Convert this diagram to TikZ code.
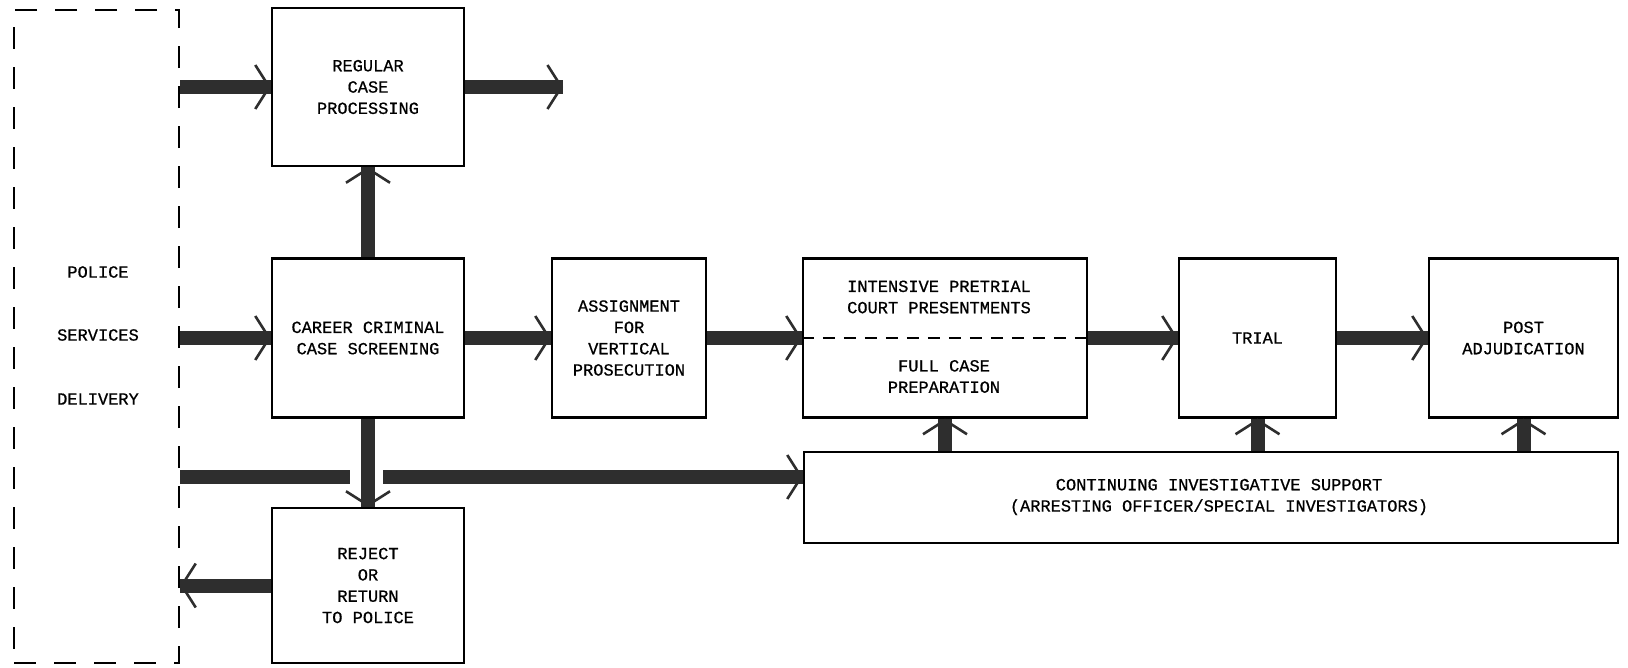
\documentclass[tikz,border=0pt]{standalone}
\usepackage{fontspec}
\newfontfamily\tw{Liberation Mono}[FakeBold=0.7]
\usetikzlibrary{arrows.meta}
\tikzset{
  box/.style={draw=black, line width=2.4pt, rectangle, inner sep=0pt, align=center},
  txt/.style={align=center, inner sep=0pt},
  shaft/.style={draw=black!82, line width=14pt},
  flow/.style={draw=black!82, line width=14pt,
    postaction={draw=black!82, line width=2.6pt, -{Straight Barb[length=14pt,width=44pt,line width=2.6pt]}}},
}
\begin{document}
\begin{tikzpicture}[x=1pt,y=-1pt, font=\tw\fontsize{17}{21.3}\selectfont]
\useasboundingbox (0,0) rectangle (1628,667);
% police (dashed)
\node[draw=black, line width=2.4pt, dash pattern=on 22pt off 18pt, rectangle, inner sep=0pt,
      minimum width=165pt, minimum height=653pt] (police) at (96.5,336.5) {};
\node[txt] (pol1) at (98,272) {POLICE};
\node[txt] (pol2) at (98,335) {SERVICES};
\node[txt] (pol3) at (98,399) {DELIVERY};
% boxes
\node[box, minimum width=192pt, minimum height=158pt] (regular) at (368,87) {REGULAR\\CASE\\PROCESSING};
\node[box, minimum width=192pt, minimum height=159pt] (career) at (368,338) {CAREER CRIMINAL\\CASE SCREENING};
\node[box, minimum width=192pt, minimum height=155pt] (reject) at (368,585.5) {REJECT\\OR\\RETURN\\TO POLICE};
\node[box, minimum width=154pt, minimum height=159pt] (assign) at (629,338) {ASSIGNMENT\\FOR\\VERTICAL\\PROSECUTION};
\node[box, minimum width=284pt, minimum height=159pt] (intens) at (945,338) {};
\node[txt] (inttop) at (939,297) {INTENSIVE PRETRIAL\\COURT PRESENTMENTS};
\node[txt] (intbot) at (944,376.5) {FULL CASE\\PREPARATION};
\draw[line width=2pt, dash pattern=on 12pt off 9pt] (intens.west) -- (intens.east);
\node[box, minimum width=157pt, minimum height=159pt] (trial) at (1257.5,338) {TRIAL};
\node[box, minimum width=189pt, minimum height=159pt] (post) at (1523.5,338) {POST\\ADJUDICATION};
\node[box, minimum width=814pt, minimum height=91pt] (cont) at (1211,497.5) {};
\node[txt] (conttxt) at (1219,497) {CONTINUING INVESTIGATIVE SUPPORT\\(ARRESTING OFFICER/SPECIAL INVESTIGATORS)};
% coordinates
\coordinate (out) at (563,87);
\coordinate (gapL) at (350,477);
\coordinate (gapR) at (383,477);
% connectors
\draw[flow] (police.east |- regular) -- (regular.west);
\draw[flow] (regular.east) -- (out);
\draw[flow] (career.north) -- (regular.south);
\draw[flow] (police.east |- career) -- (career.west);
\draw[flow] (career.east) -- (assign.west);
\draw[flow] (assign.east) -- (intens.west);
\draw[flow] (intens.east) -- (trial.west);
\draw[flow] (trial.east) -- (post.west);
\draw[flow] (career.south) -- (reject.north);
\draw[shaft] (police.east |- gapL) -- (gapL);
\draw[flow] (gapR) -- (cont.west |- gapR);
\draw[flow] (reject.west) -- (reject.west -| police.east);
\draw[flow] (cont.north -| intens) -- (intens.south);
\draw[flow] (cont.north -| trial) -- (trial.south);
\draw[flow] (cont.north -| post) -- (post.south);
\end{tikzpicture}
\end{document}
